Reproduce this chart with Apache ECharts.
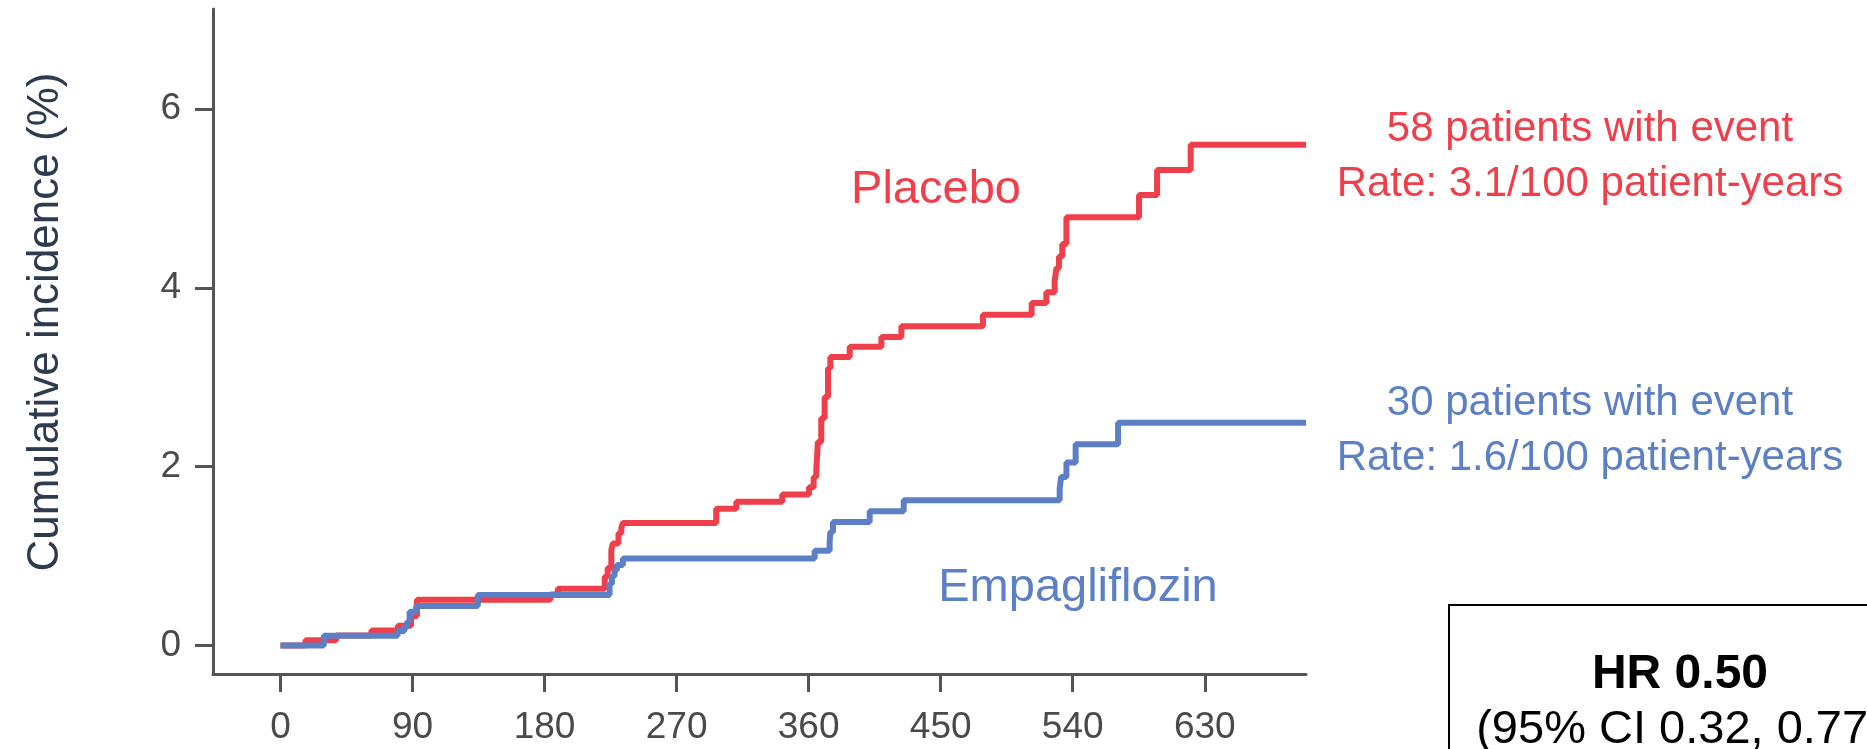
<!DOCTYPE html>
<html lang="en">
<head>
    <meta charset="utf-8">
    <title>Cumulative incidence</title>
    <script src="https://cdn.jsdelivr.net/npm/echarts@6/dist/echarts.min.js"></script>
    <style>
        html, body { margin: 0; padding: 0; background: #fff; }
        #main { width: 1867px; height: 749px; }
    </style>
</head>
<body>
<div id="main"></div>
<script type="text/javascript">
    // step curves: day of each step and the level reached there (%)
    const placeboDays = [0, 17, 38, 62, 80, 89, 93, 184, 189, 221, 223, 225.5, 226.5, 230.4, 232.3, 233.4,
        297, 310.7, 342, 360.2, 363.4, 365.2, 366.3, 368.6, 370.9, 373.2, 374.8, 388, 409.6, 423.2,
        478.8, 512, 522, 527.7, 528.9, 530.6, 532.9, 535.7, 585.2, 597.5, 620.4, 699];
    const placeboValues = [0, 0.057, 0.11, 0.168, 0.22, 0.33, 0.51, 0.57, 0.633, 0.77, 0.865, 1.066, 1.14, 1.256, 1.31, 1.37,
        1.53, 1.606, 1.688, 1.77, 1.885, 1.96, 2.276, 2.54, 2.78, 3.1, 3.226, 3.34, 3.45, 3.57,
        3.70, 3.83, 3.95, 4.08, 4.22, 4.35, 4.49, 4.79, 5.04, 5.32, 5.60, 5.60];

    const empaDays = [0, 29.5, 79.8, 84.5, 86.4, 88, 92.5, 134.5, 224.3, 225.9, 227.7, 229.3, 233.4,
        364.1, 374.3, 374.8, 376.6, 401.6, 424.8, 531.1, 532.1, 535.7, 542, 570.9, 699];
    const empaValues = [0, 0.108, 0.16, 0.21, 0.265, 0.376, 0.44, 0.563, 0.69, 0.775, 0.84, 0.90, 0.973,
        1.058, 1.16, 1.27, 1.38, 1.50, 1.625, 1.755, 1.885, 2.045, 2.25, 2.49, 2.49];

    const xTicks = [0, 90, 180, 270, 360, 450, 540, 630];
    const yTicks = [0, 2, 4, 6];

    const red = '#ef3f4b';
    const blue = '#5d7fc5';
    const font = '"Liberation Sans", Arial, sans-serif';

    function pairs(days, vals) {
        return days.map(function (d, i) { return [d, vals[i]]; });
    }

    let myChart = echarts.init(document.getElementById('main'));
    const axisGray = '#555555';
    const option = {
        animation: false,
        grid: { left: 213, top: 9, width: 1093, height: 665 },
        xAxis: {
            type: 'value',
            min: -46,
            max: 699,
            splitLine: { show: false },
            axisLine: { show: true, onZero: false, lineStyle: { color: axisGray, width: 3 } },
            axisTick: { show: true, length: 18, customValues: xTicks, lineStyle: { color: axisGray, width: 3 } },
            axisLabel: { customValues: xTicks, margin: 35, fontSize: 37, color: '#4a4a4a', fontFamily: font }
        },
        yAxis: {
            type: 'value',
            min: -0.32,
            max: 7.12,
            splitLine: { show: false },
            axisLine: { show: true, onZero: false, lineStyle: { color: axisGray, width: 3 } },
            axisTick: { show: true, length: 18, customValues: yTicks, lineStyle: { color: axisGray, width: 3 } },
            axisLabel: { customValues: yTicks, margin: 32, fontSize: 37, color: '#4a4a4a', fontFamily: font }
        },
        series: [
            {
                name: 'Placebo',
                type: 'line',
                step: 'end',
                symbol: 'none',
                data: pairs(placeboDays, placeboValues),
                lineStyle: { color: red, width: 6 }
            },
            {
                name: 'Empagliflozin',
                type: 'line',
                step: 'end',
                symbol: 'none',
                data: pairs(empaDays, empaValues),
                lineStyle: { color: blue, width: 6 }
            }
        ],
        graphic: [
            { type: 'text', x: 46, y: 322, rotation: Math.PI / 2,
                style: { text: 'Cumulative incidence (%)', align: 'center', verticalAlign: 'middle',
                    font: '44px ' + font, fill: '#2e3a4d' } },
            { type: 'text', x: 936, y: 190,
                style: { text: 'Placebo', align: 'center', verticalAlign: 'middle', font: '47px ' + font, fill: red } },
            { type: 'text', x: 1078, y: 588,
                style: { text: 'Empagliflozin', align: 'center', verticalAlign: 'middle', font: '47px ' + font, fill: blue } },
            { type: 'text', x: 1590, y: 129,
                style: { text: '58 patients with event', align: 'center', verticalAlign: 'middle', font: '42px ' + font, fill: red } },
            { type: 'text', x: 1590, y: 184,
                style: { text: 'Rate: 3.1/100 patient-years', align: 'center', verticalAlign: 'middle', font: '42px ' + font, fill: red } },
            { type: 'text', x: 1590, y: 403,
                style: { text: '30 patients with event', align: 'center', verticalAlign: 'middle', font: '42px ' + font, fill: blue } },
            { type: 'text', x: 1590, y: 458,
                style: { text: 'Rate: 1.6/100 patient-years', align: 'center', verticalAlign: 'middle', font: '42px ' + font, fill: blue } },
            { type: 'rect', shape: { x: 1449, y: 605, width: 460, height: 200 },
                style: { fill: '#fff', stroke: '#000', lineWidth: 2 } },
            { type: 'text', x: 1680, y: 675,
                style: { text: 'HR 0.50', align: 'center', verticalAlign: 'middle', font: 'bold 48px ' + font, fill: '#000' } },
            { type: 'text', x: 1680, y: 730,
                style: { text: '(95% CI 0.32, 0.77)', align: 'center', verticalAlign: 'middle', font: '47px ' + font, fill: '#000' } }
        ]
    };
    myChart.setOption(option);
</script>
</body>
</html>
